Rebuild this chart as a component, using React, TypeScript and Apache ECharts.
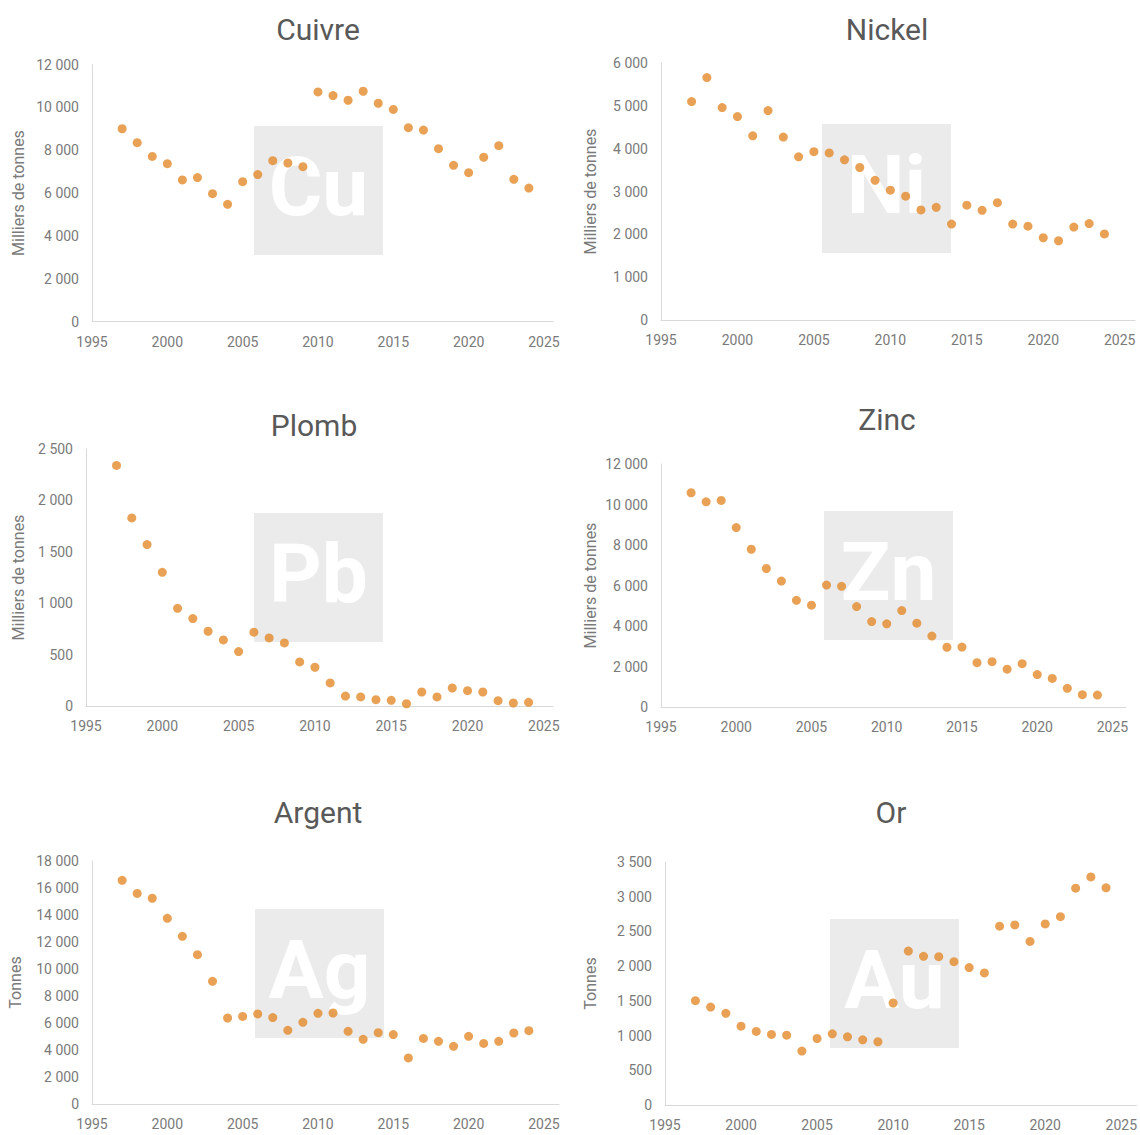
import React, { useEffect, useRef } from "react";
import * as echarts from "echarts";

const years = [1997, 1998, 1999, 2000, 2001, 2002, 2003, 2004, 2005, 2006, 2007, 2008, 2009, 2010, 2011, 2012, 2013, 2014, 2015, 2016, 2017, 2018, 2019, 2020, 2021, 2022, 2023, 2024];

const cuivre = [9000, 8350, 7710, 7370, 6610, 6720, 5970, 5470, 6530, 6860, 7510, 7400, 7230, 10720, 10550, 10330, 10750, 10190, 9900, 9050, 8940, 8070, 7290, 6950, 7670, 8210, 6640, 6230];
const nickel = [5100, 5660, 4960, 4750, 4300, 4890, 4270, 3810, 3930, 3900, 3740, 3560, 3260, 3030, 2890, 2570, 2630, 2240, 2680, 2560, 2740, 2240, 2190, 1920, 1850, 2170, 2250, 2010];
const plomb = [2340, 1830, 1570, 1300, 950, 850, 727, 643, 529, 718, 662, 614, 429, 377, 224, 97, 88, 62, 55, 22, 136, 88, 175, 149, 136, 52, 29, 36];
const zinc = [10580, 10130, 10200, 8860, 7790, 6840, 6220, 5270, 5030, 6020, 5960, 4960, 4220, 4110, 4760, 4140, 3500, 2950, 2960, 2190, 2240, 1870, 2140, 1600, 1410, 920, 610, 590];
const argent = [16570, 15600, 15240, 13750, 12420, 11060, 9090, 6370, 6490, 6670, 6400, 5460, 6050, 6720, 6740, 5380, 4790, 5280, 5140, 3410, 4860, 4640, 4270, 5010, 4490, 4640, 5260, 5430];
const or = [1502, 1411, 1321, 1135, 1059, 1016, 1006, 777, 958, 1025, 982, 939, 911, 1469, 2217, 2141, 2136, 2065, 1979, 1903, 2575, 2594, 2356, 2608, 2713, 3123, 3285, 3128];

const titles = ["Cuivre", "Nickel", "Plomb", "Zinc", "Argent", "Or"];
const symbols = ["Cu", "Ni", "Pb", "Zn", "Ag", "Au"];
const units = ["Milliers de tonnes", "Milliers de tonnes", "Milliers de tonnes", "Milliers de tonnes", "Tonnes", "Tonnes"];
const seriesData = [cuivre, nickel, plomb, zinc, argent, or];
const yMaxes = [12000, 6000, 2500, 12000, 18000, 3500];
const yIntervals = [2000, 1000, 500, 2000, 2000, 500];

// layout (pixels)
const layout = [
  { grid: { left: 92, top: 64.5, width: 461, height: 257 }, xMax: 2025.6, title: [318, 29], nameGap: 66, box: [254, 126] },
  { grid: { left: 661, top: 63, width: 474, height: 257 }, xMax: 2026, title: [887, 29], nameGap: 63, box: [822, 124] },
  { grid: { left: 86, top: 449, width: 467, height: 257 }, xMax: 2025.6, title: [314, 425], nameGap: 60, box: [254, 513] },
  { grid: { left: 661, top: 464, width: 465, height: 243 }, xMax: 2025.9, title: [887, 419], nameGap: 63, box: [824, 511] },
  { grid: { left: 92, top: 861, width: 467, height: 243 }, xMax: 2026, title: [318, 812], nameGap: 69, box: [255, 909] },
  { grid: { left: 665, top: 862, width: 474, height: 243 }, xMax: 2026, title: [891, 812], nameGap: 67, box: [830, 919] },
];

const FONT = "Roboto";
const DOT = "#E48A2A";
const LABEL = "#7A7A7A";
const AXIS = "#D9D9D9";
const BOXSIZE = 129;

const fmt = (v: number) => {
  const s = String(Math.round(v));
  return s.replace(/\B(?=(\d{3})+(?!\d))/g, " ");
};

export default function App() {
  const ref = useRef<HTMLDivElement>(null);
  useEffect(() => {
    document.body.style.margin = "0";
    if (!ref.current) return;
    const chart = echarts.init(ref.current, undefined, { renderer: "svg" });
    const graphics: any[] = [];
    layout.forEach((l, i) => {
      graphics.push({
        type: "rect",
        z: 0,
        shape: { x: l.box[0], y: l.box[1], width: BOXSIZE, height: BOXSIZE },
        style: { fill: "#EBEBEB" },
      });
      graphics.push({
        type: "text",
        z: 1,
        x: l.box[0] + BOXSIZE / 2,
        y: l.box[1] + BOXSIZE / 2 - 4,
        style: {
          text: symbols[i],
          fill: "#FFFFFF",
          fontFamily: FONT,
          fontWeight: "bold",
          fontSize: 82,
          align: "center",
          verticalAlign: "middle",
        },
      });
      graphics.push({
        type: "text",
        z: 1,
        x: l.title[0],
        y: l.title[1],
        style: {
          text: titles[i],
          fill: "#595959",
          fontFamily: FONT,
          fontSize: 30,
          align: "center",
          verticalAlign: "middle",
        },
      });
    });

    chart.setOption({
      animation: false,
      backgroundColor: "#FFFFFF",
      textStyle: { fontFamily: FONT },
      graphic: { elements: graphics },
      grid: layout.map((l) => ({ ...l.grid, containLabel: false })),
      xAxis: layout.map((l, i) => ({
        type: "value",
        gridIndex: i,
        min: 1995,
        max: l.xMax,
        interval: 5,
        splitLine: { show: false },
        axisTick: { show: false },
        axisLine: { show: true, lineStyle: { color: AXIS, width: 1 } },
        axisLabel: {
          color: LABEL,
          fontSize: 14,
          fontFamily: FONT,
          margin: 13,
          showMaxLabel: false,
          formatter: (v: number) => (v % 5 === 0 && v <= 2025 ? String(v) : ""),
        },
      })),
      yAxis: layout.map((l, i) => ({
        type: "value",
        gridIndex: i,
        min: 0,
        max: yMaxes[i],
        interval: yIntervals[i],
        name: units[i],
        nameLocation: "middle",
        nameGap: l.nameGap,
        nameTextStyle: { color: LABEL, fontSize: 16, fontFamily: FONT },
        splitLine: { show: false },
        axisTick: { show: false },
        axisLine: { show: true, lineStyle: { color: AXIS, width: 1 } },
        axisLabel: { color: LABEL, fontSize: 14, fontFamily: FONT, margin: 13, formatter: fmt },
      })),
      series: seriesData.map((d, i) => ({
        type: "scatter",
        xAxisIndex: i,
        yAxisIndex: i,
        z: 3,
        symbol: "circle",
        symbolSize: 9,
        itemStyle: { color: DOT },
        data: years.map((y, k) => [y, d[k]]),
      })),
    });
    return () => chart.dispose();
  }, []);
  return <div ref={ref} style={{ width: 1140, height: 1135 }} />;
}
